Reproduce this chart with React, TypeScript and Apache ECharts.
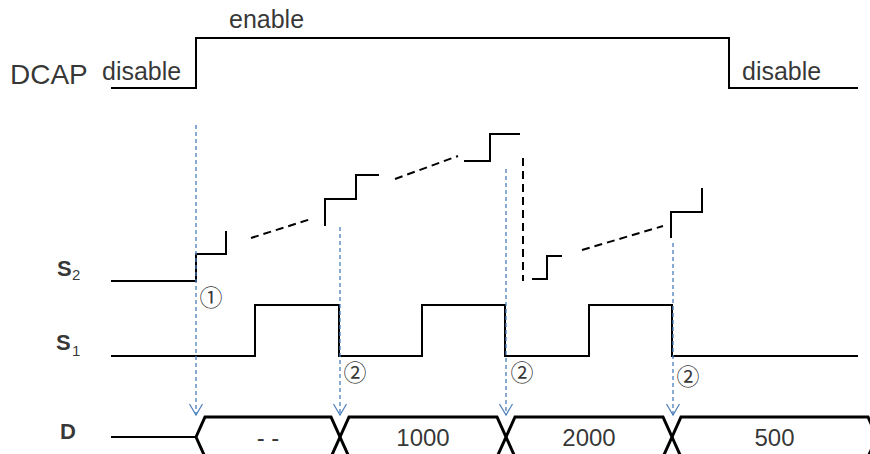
import React, { useEffect, useRef } from "react";
import * as echarts from "echarts";

// ---- diagram data (horizontal = time position, vertical = signal level position) ----
const traceStart = 111;
const traceEnd = 858;

const dcapEdges = [196, 729];
const dcapLevels = [88, 38]; // [disable, enable]

const s1Edges = [255, 339, 422, 505, 589, 672];
const s1Levels = [356, 305]; // [low, high]

// S2 staircase fragments
const s2Steps: number[][][] = [
  [[111, 281], [196, 281], [196, 254], [226, 254], [226, 231]],
  [[325, 226], [325, 199], [356, 199], [356, 175], [379, 175]],
  [[464, 161], [490, 161], [490, 134], [520, 134]],
  [[532, 279], [547, 279], [547, 256], [562, 256]],
  [[671, 238], [671, 212], [702, 212], [702, 188]],
];
// S2 ellipsis (dashed) connectors
const s2Ellipsis: number[][][] = [
  [[251, 238], [311, 219]],
  [[395, 179], [458, 156]],
  [[523, 158], [523, 281]],
  [[582, 250], [663, 226]],
];

const busEdges = [196, 340, 506, 672, 877];
const busValues = ["- -", "1000", "2000", "500"];
const busLevels = [417, 437, 457]; // [top, middle, bottom]

const arrowX = [196, 340, 506, 673];
const arrowFrom = [125, 227, 169, 243];
const arrowTo = 415;

const markerLabels = ["①", "②", "②", "②"];
const markerX = [211, 355, 522, 688];
const markerY = [296, 371, 371, 375];

const signalNames = ["DCAP", "S", "S", "D"];
const signalSubs = ["", "2", "1", ""];

// ---- helpers ----
function squareWave(edges: number[], levels: number[], start: number, end: number) {
  let idx = 0;
  const pts: number[][] = [[start, levels[idx]]];
  for (const e of edges) {
    pts.push([e, levels[idx]]);
    idx = 1 - idx;
    pts.push([e, levels[idx]]);
  }
  pts.push([end, levels[idx]]);
  return pts;
}

function lineSeries(data: number[][], color: string, width: number, type: any = "solid") {
  return {
    type: "line",
    data,
    symbol: "none",
    showSymbol: false,
    silent: true,
    clip: true,
    lineStyle: { color, width, type, cap: "butt", join: "miter" },
    z: 3,
  };
}

function textSeries(x: number, y: number, text: string, style: any) {
  return {
    type: "scatter",
    data: [[x, y]],
    symbolSize: 0,
    silent: true,
    label: {
      show: true,
      position: "inside",
      formatter: () => text,
      color: "#000",
      textBorderWidth: 0,
      textBorderColor: "transparent",
      fontFamily: "Liberation Sans, Arial, sans-serif",
      ...style,
    },
    z: 5,
  };
}

const BLUE = "#4A7EBB";

function buildOption() {
  const series: any[] = [];

  // DCAP
  series.push(lineSeries(squareWave(dcapEdges, dcapLevels, traceStart, traceEnd), "#000", 2));
  // S1
  series.push(lineSeries(squareWave(s1Edges, s1Levels, traceStart, traceEnd), "#000", 2));
  // S2
  s2Steps.forEach((p) => series.push(lineSeries(p, "#000", 2)));
  s2Ellipsis.forEach((p) => series.push(lineSeries(p, "#000", 2, [8, 5])));

  // D bus
  const [top, mid, bot] = busLevels;
  const hw = 9;
  series.push(lineSeries([[traceStart, mid], [busEdges[0], mid]], "#000", 2));
  for (let i = 0; i < busEdges.length - 1; i++) {
    const s = busEdges[i];
    const e = busEdges[i + 1];
    series.push(
      lineSeries(
        [[s, mid], [s + hw, top], [e - hw, top], [e, mid], [e - hw, bot], [s + hw, bot], [s, mid]],
        "#000",
        3
      )
    );
    series.push(
      textSeries((s + e) / 2, mid, busValues[i], { fontSize: 24, align: "center", verticalAlign: "middle" })
    );
  }

  // blue dashed arrows
  arrowX.forEach((x, i) => {
    series.push(lineSeries([[x, arrowFrom[i]], [x, arrowTo]], BLUE, 1.3, [4, 3]));
    series.push(lineSeries([[x - 6.5, arrowTo - 11], [x, arrowTo], [x + 6.5, arrowTo - 11]], BLUE, 1.2));
  });

  // circled markers
  markerLabels.forEach((m, i) => {
    series.push(
      textSeries(markerX[i], markerY[i], m, {
        fontSize: 23,
        fontFamily: "Noto Sans CJK SC, DejaVu Sans, sans-serif",
        align: "center",
        verticalAlign: "middle",
      })
    );
  });

  // signal names
  series.push(textSeries(10, 74.4, signalNames[0], { fontSize: 28, align: "left", verticalAlign: "middle" }));
  series.push(textSeries(57, 268.4, signalNames[1], { fontSize: 22, fontWeight: "bold", align: "left", verticalAlign: "middle" }));
  series.push(textSeries(72, 274.8, signalSubs[1], { fontSize: 15, align: "left", verticalAlign: "middle" }));
  series.push(textSeries(56, 342.4, signalNames[2], { fontSize: 22, fontWeight: "bold", align: "left", verticalAlign: "middle" }));
  series.push(textSeries(72, 350.8, signalSubs[2], { fontSize: 15, align: "left", verticalAlign: "middle" }));
  series.push(textSeries(60, 431.4, signalNames[3], { fontSize: 22, fontWeight: "bold", align: "left", verticalAlign: "middle" }));

  // DCAP state labels
  series.push(textSeries(102, 71.3, "disable", { fontSize: 25, align: "left", verticalAlign: "middle" }));
  series.push(textSeries(229, 19.3, "enable", { fontSize: 25, align: "left", verticalAlign: "middle" }));
  series.push(textSeries(742, 71.3, "disable", { fontSize: 25, align: "left", verticalAlign: "middle" }));

  return {
    animation: false,
    backgroundColor: "#fff",
    grid: { left: 0, right: 0, top: 0, bottom: 0 },
    xAxis: { type: "value", min: 0, max: 870, show: false },
    yAxis: { type: "value", min: 0, max: 454, inverse: true, show: false },
    series,
  };
}

export default function App() {
  const ref = useRef<HTMLDivElement>(null);
  useEffect(() => {
    if (!ref.current) return;
    const chart = echarts.init(ref.current, undefined, { renderer: "svg" });
    chart.setOption(buildOption() as any);
    return () => chart.dispose();
  }, []);
  return (
    <div
      ref={ref}
      style={{ position: "fixed", left: 0, top: 0, width: 870, height: 454, background: "#fff" }}
    />
  );
}
